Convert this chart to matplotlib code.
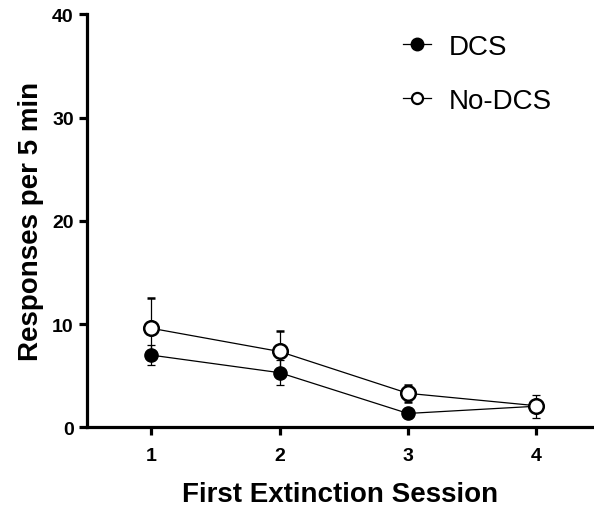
import matplotlib.pyplot as plt
from matplotlib.lines import Line2D

plt.rcParams['font.family'] = ['Liberation Sans', 'DejaVu Sans']

# Data
sessions = [1, 2, 3, 4]
dcs_mean = [7.0, 5.3, 1.35, 2.05]
dcs_sem = [1.0, 1.2, 0.3, 1.1]
nodcs_mean = [9.6, 7.35, 3.3, 2.1]
nodcs_sem = [2.9, 2.0, 0.8, 0.5]

fig = plt.figure(figsize=(5.94, 5.1), dpi=100)
ax = fig.add_axes([0.1465, 0.16, 0.8535, 0.81])

ax.errorbar(sessions, dcs_mean, yerr=dcs_sem, color='black', marker='o',
            markersize=9.5, markerfacecolor='black', linewidth=0.9,
            elinewidth=0.9, capsize=3.2, capthick=0.9, zorder=3)
ax.errorbar(sessions, nodcs_mean, yerr=nodcs_sem, color='black', marker='o',
            markersize=10.5, markerfacecolor='white', markeredgewidth=1.8,
            linewidth=0.9, elinewidth=0.9, capsize=3.2, capthick=0.9, zorder=4)

ax.set_xlim(0.5, 4.45)
ax.set_ylim(0, 40)
ax.set_xticks(sessions)
ax.set_yticks([0, 10, 20, 30, 40])

for side in ['top', 'right']:
    ax.spines[side].set_visible(False)
for side in ['left', 'bottom']:
    ax.spines[side].set_linewidth(2.3)

ax.tick_params(width=2.3, length=6, labelsize=14)
ax.tick_params(axis='x', pad=8)
for lbl in ax.get_xticklabels() + ax.get_yticklabels():
    lbl.set_fontweight('bold')

ax.set_xlabel('First Extinction Session', fontsize=20, fontweight='bold', labelpad=12)
ax.set_ylabel('Responses per 5 min', fontsize=20, fontweight='bold', labelpad=6)

handles = [
    Line2D([], [], color='black', marker='o', markersize=9, markerfacecolor='black',
           linewidth=0.9),
    Line2D([], [], color='black', marker='o', markersize=8, markerfacecolor='white',
           markeredgewidth=1.6, linewidth=0.9),
]
fig.legend(handles, ['DCS', 'No-DCS'], loc='upper left',
           bbox_to_anchor=(403 / 594, 1 - 35 / 510), frameon=False,
           fontsize=20, handlelength=1.0, labelspacing=1.0, handletextpad=0.65,
           borderpad=0, borderaxespad=0)

fig.savefig('out.png', dpi=100)
